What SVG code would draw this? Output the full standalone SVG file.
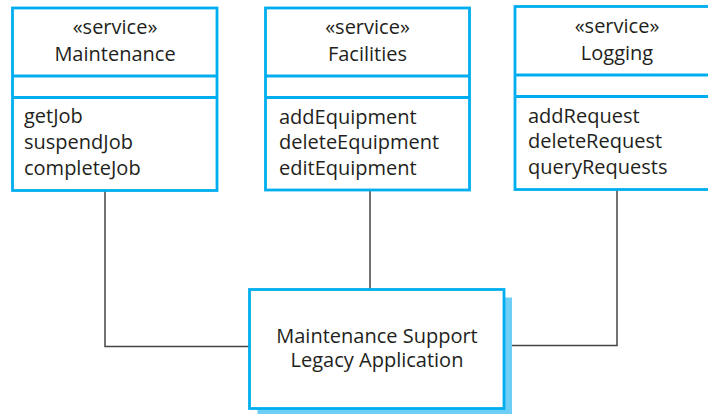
<svg xmlns="http://www.w3.org/2000/svg" width="708" height="414" viewBox="0 0 708 414">
  <style>
    .box { fill: #ffffff; stroke: #00aeef; stroke-width: 2.8; }
    .div { stroke: #00aeef; stroke-width: 2.8; fill: none; }
    .shadow { fill: #6dcff6; }
    .conn { fill: none; stroke: #444444; stroke-width: 1.5; }
    text { font-family: "Open Sans", "Noto Sans", sans-serif; font-size: 20px; fill: #231f20; }
    .c { text-anchor: middle; }
  </style>
  <rect width="708" height="414" fill="#ffffff"/>
  <g id="connectors">
    <polyline class="conn" points="105,190 105,346.5 250,346.5"/>
    <line class="conn" x1="370" y1="190" x2="370" y2="289.5"/>
    <polyline class="conn" points="617,189 617,345.5 504,345.5"/>
  </g>
  <g id="maintenance">
    <rect class="box" x="12.5" y="8" width="204.5" height="182.5"/>
    <line class="div" x1="12.5" y1="76" x2="217" y2="76"/>
    <line class="div" x1="12.5" y1="97.5" x2="217" y2="97.5"/>
    <text class="c" x="115" y="34">«service»</text>
    <text class="c" x="115" y="61">Maintenance</text>
    <text x="24" y="123">getJob</text>
    <text x="24" y="149">suspendJob</text>
    <text x="24" y="175">completeJob</text>
  </g>
  <g id="facilities">
    <rect class="box" x="265.5" y="8" width="204" height="182"/>
    <line class="div" x1="265.5" y1="76" x2="469.5" y2="76"/>
    <line class="div" x1="265.5" y1="97.5" x2="469.5" y2="97.5"/>
    <text class="c" x="367.5" y="34">«service»</text>
    <text class="c" x="367.5" y="61">Facilities</text>
    <text x="279" y="123.5">addEquipment</text>
    <text x="279" y="149">deleteEquipment</text>
    <text x="279" y="175">editEquipment</text>
  </g>
  <g id="logging">
    <rect class="box" x="515" y="6.5" width="204" height="183"/>
    <line class="div" x1="515" y1="75" x2="719" y2="75"/>
    <line class="div" x1="515" y1="96.5" x2="719" y2="96.5"/>
    <text class="c" x="617" y="33">«service»</text>
    <text class="c" x="617" y="60">Logging</text>
    <text x="528" y="122.5">addRequest</text>
    <text x="528" y="148">deleteRequest</text>
    <text x="528" y="173.5">queryRequests</text>
  </g>
  <g id="legacy">
    <rect class="shadow" x="257.5" y="297.5" width="254.5" height="119"/>
    <rect class="box" x="249.5" y="289.5" width="254.5" height="119"/>
    <text class="c" x="377" y="342.5">Maintenance Support</text>
    <text class="c" x="377" y="367">Legacy Application</text>
  </g>
</svg>
